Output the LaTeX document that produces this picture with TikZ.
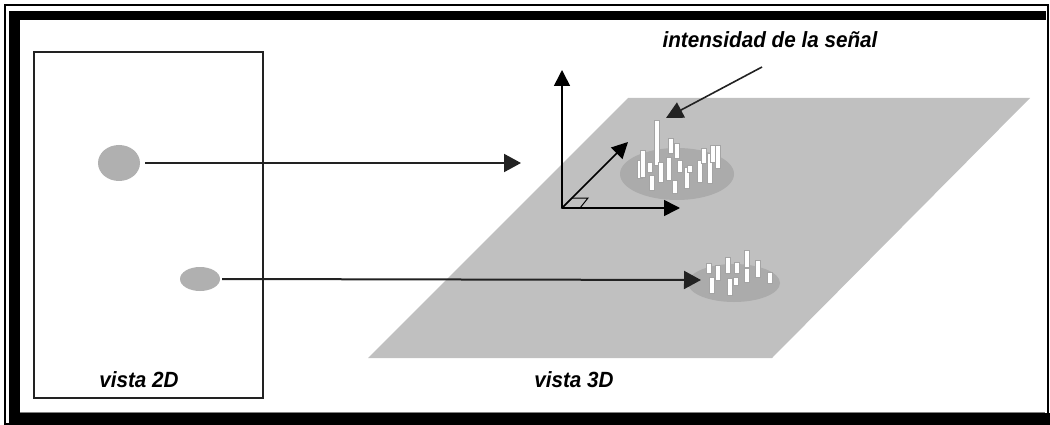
\documentclass[tikz,border=0pt]{standalone}
\usepackage{fontspec}
\setmainfont{Liberation Sans}
\usetikzlibrary{arrows.meta,shapes.geometric}
\definecolor{plane}{HTML}{C0C0C0}
\definecolor{spot}{HTML}{B0B0B0}
\definecolor{peakbase}{HTML}{ABABAB}
\definecolor{barline}{HTML}{A4A4A4}
\definecolor{ink}{HTML}{222222}
\tikzset{
  lbl/.style={font=\fontsize{22}{24}\selectfont\bfseries\itshape, inner sep=0pt, text=black},
  spotnode/.style={ellipse, fill=spot, inner sep=0pt},
  bigarrow/.style={draw=ink, line width=2pt, -{Triangle[length=17pt,width=18pt]}},
  axis/.style={draw=black, line width=1.6pt, -{Triangle[length=16pt,width=16pt]}},
  bar/.style={fill=white, draw=barline, line width=0.5pt},
}
\newcommand{\peakbar}[3]{\filldraw[bar] (#1-2.3,#2) rectangle (#1+2.3,#3);}
\newcommand{\squeezed}[1]{\scalebox{0.94}[1]{#1}}
\begin{document}
\begin{tikzpicture}[x=1pt,y=-1pt]
  \useasboundingbox (0,0) rectangle (1050,425);
  \fill[white] (0,0) rectangle (1050,425);
  % frame
  \draw[black, line width=1.6pt] (5,5) rectangle (1048,424);
  \fill[black] (9,11) rectangle (1046,20);
  \fill[black] (9,11) rectangle (20,425);
  \fill[black] (9,413) rectangle (1050,425);
  \draw[gray, line width=0.8pt] (20,412) -- (1045,412);

  % 2D view box
  \draw[ink, line width=1.3pt] (34,52) rectangle (263,398);
  \node[lbl] (v2) at (139,380) {\squeezed{vista 2D}};
  \node[spotnode, minimum width=42pt, minimum height=36pt] (s1) at (119,163) {};
  \node[spotnode, minimum width=40pt, minimum height=24pt] (s2) at (200,279) {};

  % 3D view plane
  \fill[plane] (628,98) -- (1030,98) -- (772,358) -- (368,358) -- cycle;
  \node[lbl] (v3) at (574,380) {\squeezed{vista 3D}};

  % signal clusters
  \fill[peakbase] (677,174) ellipse (57 and 26);
  \fill[peakbase] (734,283) ellipse (46 and 19);
  \foreach \x/\a/\b in {640/160/178, 643/150/177, 650/162/172, 652/175/190, 657/120/165,
      661/162/182, 669/157/180, 671/138/153, 675/180/193, 677/143/158, 680/160/172,
      687/167/188, 690/165/172, 700/160/182, 704/148/163, 710/153/183, 713/145/162, 718/145/168}
    {\peakbar{\x}{\a}{\b}}
  \foreach \x/\a/\b in {709/263/273, 712/277/293, 718/265/280, 728/257/273, 730/278/295,
      737/262/273, 736/277/285, 747/250/267, 747/268/282, 758/260/277, 770/272/283}
    {\peakbar{\x}{\a}{\b}}

  % axes
  \coordinate (o) at (562,208);
  \coordinate (ztip) at (562,70);
  \coordinate (xtip) at (680,208);
  \coordinate (ytip) at (628,142);
  \filldraw[fill=plane, draw=black, line width=1pt] (o) -- (580,208) -- (588,198) -- (572,198) -- cycle;
  \draw[axis] (o) -- (ztip);
  \draw[axis] (o) -- (xtip);
  \draw[axis] (o) -- (ytip);

  % mapping arrows
  \coordinate (t1) at (521,163);
  \coordinate (t2) at (701,280);
  \draw[bigarrow] (s1.east) ++(5,0) -- (t1);
  \draw[bigarrow] (s2.east) ++(2,0) -- (t2);

  % label
  \node[lbl] (lab) at (770,40) {\squeezed{intensidad de la señal}};
  \coordinate (labfoot) at (762,67);
  \coordinate (peaktip) at (666,118);
  \draw[draw=ink, line width=1.6pt, -{Triangle[length=17pt,width=17pt]}] (labfoot) -- (peaktip);
\end{tikzpicture}
\end{document}
